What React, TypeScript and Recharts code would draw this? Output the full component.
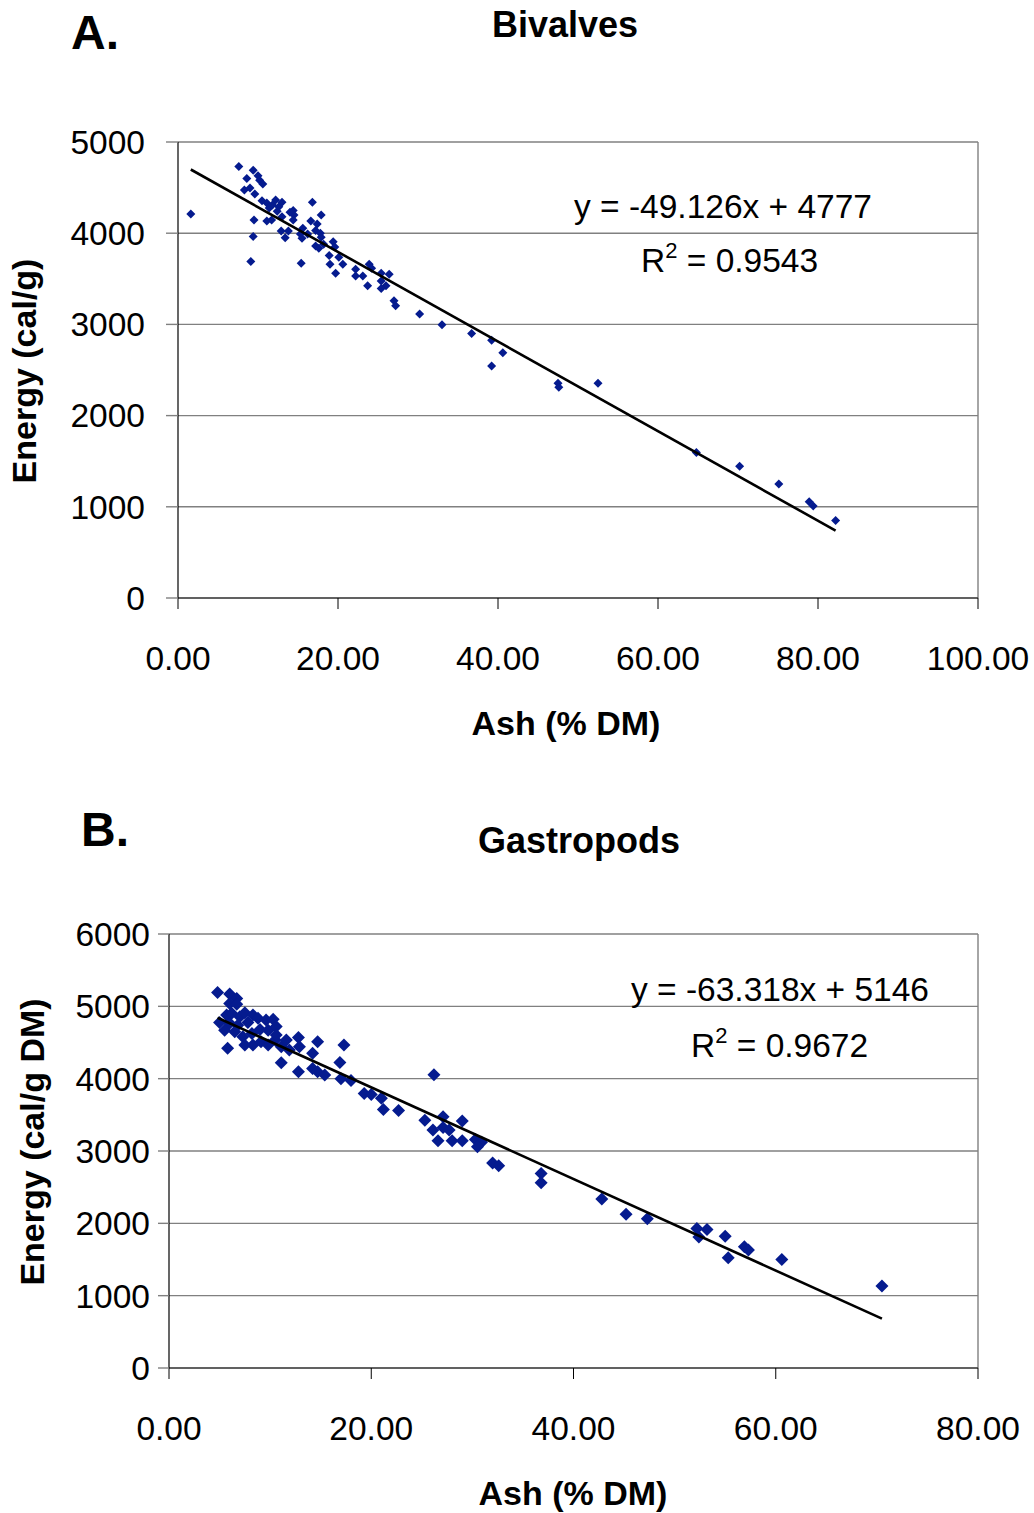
import React from "react";
import {
  ScatterChart,
  Scatter,
  XAxis,
  YAxis,
  CartesianGrid,
  ReferenceLine,
} from "recharts";

// Bivalves (panel A)
const bivalveAsh = [
  1.6, 7.6, 9.4, 8.6, 10.0, 10.2, 10.6, 8.3, 9.0, 9.6, 10.5, 11.1, 12.2, 13.0, 16.8,
  11.4, 12.4, 14.4, 14.5, 17.9, 9.5, 11.1, 11.7, 13.0, 14.4, 16.6, 17.4, 9.4, 12.9, 13.8,
  13.4, 15.3, 15.5, 15.6, 17.2, 17.8, 17.9, 17.2, 17.6, 19.4, 19.6, 18.9, 9.1, 15.4, 19.0,
  20.6, 19.7, 22.2, 22.2, 23.9, 24.2, 23.1, 23.7, 25.4, 26.4, 25.4, 26.0, 25.4, 27.0, 27.2,
  30.2, 33.0, 36.7, 39.2, 40.6, 39.2, 47.5, 47.6, 52.5, 64.8, 70.2, 75.1, 78.9, 79.4, 82.2,
  11.8, 12.6, 14.0, 16.2, 18.2, 20.1,
];
const bivalveEnergy = [
  4210, 4730, 4690, 4600, 4630, 4580, 4540, 4475, 4495, 4430, 4355, 4330, 4365, 4340, 4340,
  4275, 4240, 4250, 4200, 4200, 4145, 4135, 4145, 4180, 4145, 4135, 4100, 3965, 4025, 4025,
  3950, 3990, 3945, 4055, 4030, 4000, 3955, 3860, 3835, 3905, 3850, 3755, 3690, 3670, 3660,
  3660, 3560, 3605, 3530, 3660, 3615, 3530, 3425, 3560, 3550, 3475, 3425, 3395, 3260, 3205,
  3115, 2995, 2900, 2825, 2690, 2545, 2355, 2310, 2355, 1595, 1445, 1250, 1055, 1010, 850,
  4310, 4290, 4230, 3990, 3880, 3735,
];
const bivalveXTicks = [0, 20, 40, 60, 80, 100];
const bivalveYTicks = [0, 1000, 2000, 3000, 4000, 5000];
const bivalveFit = { slope: -49.126, intercept: 4777 };

// Gastropods (panel B)
const gastroAsh = [
  4.8, 6.0, 6.7, 6.0, 6.7, 5.7, 6.2, 7.0, 7.5, 8.3, 5.0, 6.0, 6.8, 7.8, 8.8,
  9.6, 10.3, 5.5, 6.5, 7.3, 8.2, 9.0, 9.8, 10.6, 7.5, 8.3, 9.1, 9.8, 10.5, 5.8,
  11.1, 10.6, 11.6, 12.8, 12.9, 14.7, 17.3, 11.9, 14.2, 11.1, 12.8, 14.2, 14.7, 15.4, 16.9,
  17.0, 18.0, 19.3, 20.0, 21.0, 21.2, 22.7, 25.3, 26.1, 27.1, 27.1, 27.7, 29.0, 26.6, 28.0,
  29.0, 30.3, 30.9, 30.5, 32.0, 32.6, 36.8, 36.8, 42.8, 45.2, 47.3, 52.2, 52.4, 53.2, 55.0,
  55.3, 56.9, 57.3, 60.6, 70.5, 26.2,
];
const gastroEnergy = [
  5190, 5170, 5110, 5040, 5030, 4880, 4905, 4855, 4910, 4880, 4775, 4765, 4740, 4775, 4835,
  4810, 4820, 4670, 4650, 4580, 4625, 4680, 4670, 4720, 4465, 4465, 4510, 4465, 4535, 4420,
  4440, 4605, 4535, 4570, 4440, 4510, 4465, 4395, 4350, 4220, 4095, 4140, 4095, 4050, 4225,
  4000, 3975, 3795, 3780, 3730, 3575, 3560, 3425, 3290, 3475, 3325, 3290, 3415, 3140, 3140,
  3140, 3160, 3120, 3060, 2835, 2795, 2690, 2560, 2335, 2125, 2065, 1930, 1810, 1915, 1820,
  1525, 1675, 1630, 1500, 1135, 4055,
];
const gastroXTicks = [0, 20, 40, 60, 80];
const gastroYTicks = [0, 1000, 2000, 3000, 4000, 5000, 6000];
const gastroFit = { slope: -63.318, intercept: 5146 };

const FONT = "'Liberation Sans', Arial, sans-serif";
const BLUE = "#051b8f";
const GRID = "#808080";

const diamond = (half: number) => (props: any) => {
  const { cx, cy } = props;
  if (cx == null || cy == null) return <g />;
  return (
    <path
      d={`M${cx},${cy - half}L${cx + half},${cy}L${cx},${cy + half}L${cx - half},${cy}Z`}
      fill={BLUE}
    />
  );
};

const noDot = () => <g />;

type PanelProps = {
  ash: number[];
  energy: number[];
  xTicks: number[];
  yTicks: number[];
  fit: { slope: number; intercept: number };
  top: number;
  height: number;
  marginTop: number;
  yAxisWidth: number;
  xAxisHeight: number;
  yTickSize: number;
  yTickMargin: number;
  markerHalf: number;
};

function Panel(p: PanelProps) {
  const points = p.ash.map((a, i) => ({ ash: a, energy: p.energy[i] }));
  const lo = Math.min(...p.ash);
  const hi = Math.max(...p.ash);
  const trend = [lo, hi].map((a) => ({ ash: a, energy: p.fit.slope * a + p.fit.intercept }));
  const xMax = p.xTicks[p.xTicks.length - 1];
  const yMax = p.yTicks[p.yTicks.length - 1];

  return (
    <div style={{ position: "absolute", left: 0, top: p.top, width: 1034, height: p.height }}>
      <ScatterChart
        width={1034}
        height={p.height}
        margin={{ top: p.marginTop, right: 56, bottom: 0, left: 0 }}
      >
        <CartesianGrid vertical={false} stroke={GRID} strokeWidth={1.4} />
        <XAxis
          type="number"
          dataKey="ash"
          domain={[0, xMax]}
          ticks={p.xTicks}
          interval={0}
          height={p.xAxisHeight}
          tickFormatter={(v: number) => v.toFixed(2)}
          tickSize={11}
          tickMargin={37}
          axisLine={{ stroke: "#222", strokeWidth: 1.2 }}
          tickLine={{ stroke: "#000" }}
          tick={{ fontSize: 33.5, fill: "#000", fontFamily: FONT }}
        />
        <YAxis
          type="number"
          dataKey="energy"
          domain={[0, yMax]}
          ticks={p.yTicks}
          interval={0}
          width={p.yAxisWidth}
          tickSize={p.yTickSize}
          tickMargin={p.yTickMargin}
          axisLine={{ stroke: "#000", strokeWidth: 1.2 }}
          tickLine={{ stroke: GRID, strokeWidth: 1.4 }}
          tick={{ fontSize: 33.5, fill: "#000", fontFamily: FONT }}
        />
        <ReferenceLine x={xMax} stroke={GRID} strokeWidth={1.4} />
        <Scatter data={points} shape={diamond(p.markerHalf)} isAnimationActive={false} />
        <Scatter
          data={trend}
          shape={noDot}
          line={{ stroke: "#000", strokeWidth: 2.6 }}
          isAnimationActive={false}
        />
      </ScatterChart>
    </div>
  );
}

function Labels() {
  const reg = { fontFamily: FONT, fontSize: 33.5, fill: "#000" };
  const bold = { fontFamily: FONT, fontWeight: 700, fill: "#000" };
  return (
    <svg
      width={1034}
      height={1513}
      style={{ position: "absolute", left: 0, top: 0, pointerEvents: "none" }}
    >
      <text x={71} y={49} fontSize={48} {...bold}>A.</text>
      <text x={565} y={37} fontSize={36} textAnchor="middle" {...bold}>Bivalves</text>
      <text x={574} y={218} {...reg}>y = -49.126x + 4777</text>
      <text x={641} y={272} {...reg}>
        R<tspan fontSize={22} dy={-14}>2</tspan>
        <tspan dy={14}> = 0.9543</tspan>
      </text>
      <text x={566} y={735} fontSize={34} textAnchor="middle" {...bold}>Ash (% DM)</text>
      <text
        x={36}
        y={371}
        fontSize={34}
        textAnchor="middle"
        transform="rotate(-90 36 371)"
        {...bold}
      >
        Energy (cal/g)
      </text>

      <text x={81} y={846} fontSize={48} {...bold}>B.</text>
      <text x={579} y={853} fontSize={36} textAnchor="middle" {...bold}>Gastropods</text>
      <text x={631} y={1001} {...reg}>y = -63.318x + 5146</text>
      <text x={691} y={1057} {...reg}>
        R<tspan fontSize={22} dy={-14}>2</tspan>
        <tspan dy={14}> = 0.9672</tspan>
      </text>
      <text x={573} y={1505} fontSize={34} textAnchor="middle" {...bold}>Ash (% DM)</text>
      <text
        x={44}
        y={1142}
        fontSize={34}
        textAnchor="middle"
        transform="rotate(-90 44 1142)"
        {...bold}
      >
        Energy (cal/g DM)
      </text>
    </svg>
  );
}

export default function App() {
  return (
    <div
      style={{
        position: "absolute",
        left: 0,
        top: 0,
        width: 1034,
        height: 1513,
        background: "#fff",
        overflow: "hidden",
      }}
    >
      <Panel
        ash={bivalveAsh}
        energy={bivalveEnergy}
        xTicks={bivalveXTicks}
        yTicks={bivalveYTicks}
        fit={bivalveFit}
        top={0}
        height={770}
        marginTop={142}
        yAxisWidth={178}
        xAxisHeight={172}
        yTickSize={12}
        yTickMargin={21}
        markerHalf={4.5}
      />
      <Panel
        ash={gastroAsh}
        energy={gastroEnergy}
        xTicks={gastroXTicks}
        yTicks={gastroYTicks}
        fit={gastroFit}
        top={770}
        height={743}
        marginTop={164}
        yAxisWidth={169}
        xAxisHeight={145}
        yTickSize={11}
        yTickMargin={8}
        markerHalf={6.5}
      />
      <Labels />
    </div>
  );
}
